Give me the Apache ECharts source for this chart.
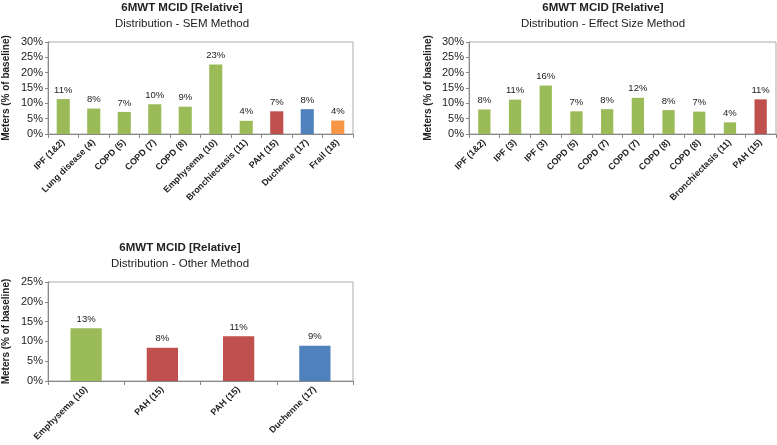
<!DOCTYPE html>
<html>
<head>
<meta charset="utf-8">
<script src="https://cdn.jsdelivr.net/npm/echarts@6/dist/echarts.min.js"></script>
<style>
html,body{margin:0;padding:0;background:#fff;}
#c{width:777px;height:445px;}
</style>
</head>
<body>
<div id="c"></div>
<script>
// ---- Data ----
var semCategories = ['IPF (1&2)', 'Lung disease (4)', 'COPD (5)', 'COPD (7)', 'COPD (8)', 'Emphysema (10)', 'Bronchiectasis (11)', 'PAH (15)', 'Duchenne (17)', 'Frail (18)'];
var semValues = [11.4, 8.3, 7.2, 9.7, 8.9, 22.7, 4.3, 7.4, 8.1, 4.4];
var semGroups = ['lung', 'lung', 'lung', 'lung', 'lung', 'lung', 'lung', 'pah', 'dmd', 'frail'];

var esCategories = ['IPF (1&2)', 'IPF (3)', 'IPF (3)', 'COPD (5)', 'COPD (7)', 'COPD (7)', 'COPD (8)', 'COPD (8)', 'Bronchiectasis (11)', 'PAH (15)'];
var esValues = [8.0, 11.2, 15.8, 7.4, 8.1, 11.8, 7.8, 7.3, 3.8, 11.3];
var esGroups = ['lung', 'lung', 'lung', 'lung', 'lung', 'lung', 'lung', 'lung', 'lung', 'pah'];

var otherCategories = ['Emphysema (10)', 'PAH (15)', 'PAH (15)', 'Duchenne (17)'];
var otherValues = [13.3, 8.4, 11.3, 8.9];
var otherGroups = ['lung', 'pah', 'pah', 'dmd'];

var yTicks30 = [0, 5, 10, 15, 20, 25, 30];
var yTicks25 = [0, 5, 10, 15, 20, 25];

var titleMain = '6MWT MCID [Relative]';
var subSEM = 'Distribution - SEM Method';
var subES = 'Distribution - Effect Size Method';
var subOther = 'Distribution - Other Method';
var yName = 'Meters (% of baseline)';

// ---- Styles ----
var groupColor = {lung: '#9BBB59', pah: '#C0504D', dmd: '#4F81BD', frail: '#F79646'};
var FONT = 'Liberation Sans';

function mkData(vals, groups) {
  return vals.map(function (v, i) {
    return {value: v, itemStyle: {color: groupColor[groups[i]]}};
  });
}

function mkTitle(left, top, sub) {
  return {
    text: titleMain, subtext: sub, left: left, top: top, textAlign: 'center',
    itemGap: 4,
    textStyle: {fontFamily: FONT, fontSize: 11.5, fontWeight: 'bold', color: '#222'},
    subtextStyle: {fontFamily: FONT, fontSize: 11.5, color: '#222'}
  };
}

function mkX(idx, cats) {
  return {
    type: 'category', gridIndex: idx, data: cats,
    axisLine: {lineStyle: {color: '#888'}},
    axisTick: {show: true, length: 4, lineStyle: {color: '#888'}},
    axisLabel: {rotate: 45, interval: 0, fontFamily: FONT, fontSize: 9, fontWeight: 'bold', color: '#222', margin: 7}
  };
}

function mkY(idx, ticks, nameGap) {
  return {
    type: 'value', gridIndex: idx, min: ticks[0], max: ticks[ticks.length - 1], interval: 5,
    name: yName, nameLocation: 'middle', nameGap: nameGap, nameRotate: 90,
    nameTextStyle: {fontFamily: FONT, fontSize: 10, fontWeight: 'bold', color: '#222'},
    axisLine: {show: true, lineStyle: {color: '#888'}},
    axisTick: {show: true, length: 3, lineStyle: {color: '#888'}},
    splitLine: {show: false},
    axisLabel: {formatter: '{value}%', fontFamily: FONT, fontSize: 11, color: '#222', margin: 5}
  };
}

function mkSeries(idx, vals, groups, gap) {
  return {
    type: 'bar', xAxisIndex: idx, yAxisIndex: idx,
    data: mkData(vals, groups), barCategoryGap: gap,
    label: {
      show: true, position: 'top', distance: 4,
      fontFamily: FONT, fontSize: 9.5, color: '#222',
      formatter: function (p) { return Math.round(p.value) + '%'; }
    }
  };
}

var chart = echarts.init(document.getElementById('c'));
chart.setOption({
  animation: false,
  backgroundColor: '#fff',
  title: [mkTitle(177, -3, subSEM), mkTitle(598, -3, subES), mkTitle(175, 237, subOther)],
  grid: [
    {left: 48, top: 42, width: 305, height: 92, show: true, borderColor: '#aaa', borderWidth: 1},
    {left: 469, top: 42, width: 307, height: 92, show: true, borderColor: '#aaa', borderWidth: 1},
    {left: 48, top: 282, width: 305, height: 99, show: true, borderColor: '#aaa', borderWidth: 1}
  ],
  xAxis: [mkX(0, semCategories), mkX(1, esCategories), mkX(2, otherCategories)],
  yAxis: [mkY(0, yTicks30, 37), mkY(1, yTicks30, 36), mkY(2, yTicks25, 37)],
  series: [
    mkSeries(0, semValues, semGroups, '57%'),
    mkSeries(1, esValues, esGroups, '60%'),
    mkSeries(2, otherValues, otherGroups, '59%')
  ]
});
</script>
</body>
</html>
